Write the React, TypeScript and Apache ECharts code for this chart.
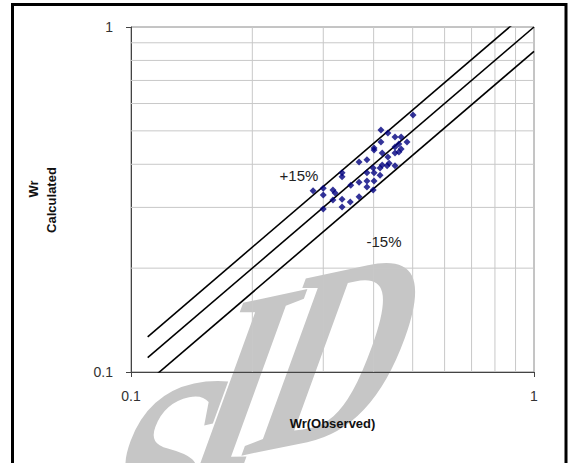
import React, { useEffect, useRef } from "react";
import * as echarts from "echarts";

// Observed vs calculated Wr values
const observed = [
  0.501, 0.417, 0.434, 0.452, 0.468, 0.484, 0.417, 0.462, 0.468, 0.401,
  0.401, 0.452, 0.420, 0.452, 0.462, 0.434, 0.385, 0.368, 0.420, 0.432,
  0.452, 0.437, 0.399, 0.415, 0.385, 0.401, 0.415, 0.385, 0.401, 0.368,
  0.385, 0.399, 0.334, 0.334, 0.351, 0.283, 0.300, 0.317, 0.321, 0.300,
  0.334, 0.317, 0.350, 0.368, 0.334, 0.300,
];
const calculated = [
  0.556, 0.503, 0.493, 0.480, 0.480, 0.464, 0.464, 0.458, 0.443, 0.446,
  0.440, 0.449, 0.431, 0.431, 0.434, 0.420, 0.412, 0.406, 0.398, 0.396,
  0.396, 0.403, 0.390, 0.390, 0.378, 0.378, 0.372, 0.358, 0.358, 0.355,
  0.344, 0.337, 0.378, 0.368, 0.348, 0.335, 0.341, 0.337, 0.330, 0.326,
  0.317, 0.315, 0.311, 0.322, 0.301, 0.297,
];

const axisMin = 0.1;
const axisMax = 1;
const minorGridValues = [0.2, 0.3, 0.4, 0.5, 0.6, 0.7, 0.8, 0.9];
const bandRatios = [1.15, 1, 0.85];
const bandStartX = 0.11;
const bandLabels = ["+15%", "-15%"];
const xAxisTitle = "Wr(Observed)";
const yAxisTitleLines = ["Wr", "Calculated"];
const watermarkLetters = ["S", "I", "D"];

function watermarkTransform() {
  const a = 0.85;
  const b = 1.2;
  const base = (12 * Math.PI) / 180;
  const lean = (20 * Math.PI) / 180;
  const m00 = a * Math.cos(base);
  const m10 = -a * Math.sin(base);
  const m01 = -b * Math.sin(lean);
  const m11 = b * Math.cos(lean);
  const E = (m00 + m11) / 2;
  const F = (m00 - m11) / 2;
  const G = (m10 + m01) / 2;
  const H = (m10 - m01) / 2;
  const Q = Math.hypot(E, H);
  const R = Math.hypot(F, G);
  const a1 = Math.atan2(G, F);
  const a2 = Math.atan2(H, E);
  return {
    outer: -(a2 + a1) / 2,
    sx: Q + R,
    sy: Q - R,
    inner: -(a2 - a1) / 2,
  };
}

export default function App() {
  const ref = useRef<HTMLDivElement>(null);

  useEffect(() => {
    document.body.style.margin = "0";
    if (!ref.current) return;
    const chart = echarts.init(ref.current, undefined, { renderer: "svg" });

    const gridSeries: any[] = [];
    minorGridValues.forEach((v) => {
      gridSeries.push({
        type: "line",
        data: [
          [v, axisMin],
          [v, axisMax],
        ],
        symbol: "none",
        silent: true,
        z: 0,
        lineStyle: { color: "#c8c8c8", width: 1 },
      });
      gridSeries.push({
        type: "line",
        data: [
          [axisMin, v],
          [axisMax, v],
        ],
        symbol: "none",
        silent: true,
        z: 0,
        lineStyle: { color: "#c8c8c8", width: 1 },
      });
    });

    const bandSeries = bandRatios.map((k) => ({
      type: "line",
      data: [
        [bandStartX, bandStartX * k],
        [axisMax, axisMax * k],
      ],
      symbol: "none",
      silent: true,
      clip: true,
      z: 2,
      lineStyle: { color: "#000", width: 1.6 },
    }));

    const wm = watermarkTransform();
    const wmCenters = [
      [160, 472],
      [244, 382],
      [343, 350],
    ];
    const wmGroups = watermarkLetters.map((ch, i) => ({
      type: "group",
      x: wmCenters[i][0],
      y: wmCenters[i][1],
      rotation: wm.outer,
      z: -5,
      children: [
        {
          type: "group",
          scaleX: wm.sx,
          scaleY: wm.sy,
          z: -5,
          children: [
            {
              type: "text",
              rotation: wm.inner,
              z: -5,
              silent: true,
              style: {
                text: ch,
                font: "bold 240px 'Liberation Serif', 'DejaVu Serif', serif",
                fill: "#c6c6c6",
                align: "center",
                verticalAlign: "middle",
              },
            },
          ],
        },
      ],
    }));

    const labelFont = "Arial, 'Liberation Sans', sans-serif";

    chart.setOption({
      animation: false,
      backgroundColor: "#fff",
      grid: {
        left: 131,
        top: 27,
        width: 403,
        height: 345,
        show: true,
        borderColor: "#8a8a8a",
        borderWidth: 1,
        backgroundColor: "transparent",
      },
      xAxis: {
        type: "log",
        logBase: 10,
        min: axisMin,
        max: axisMax,
        name: xAxisTitle,
        nameLocation: "middle",
        nameGap: 45,
        nameTextStyle: {
          fontFamily: labelFont,
          fontWeight: "bold",
          fontSize: 13,
          color: "#111",
        },
        axisLine: { lineStyle: { color: "#444", width: 1 } },
        axisTick: { show: true, length: 5, lineStyle: { color: "#444" } },
        splitLine: { show: false },
        axisLabel: {
          margin: 17,
          fontFamily: labelFont,
          fontSize: 14,
          color: "#333",
          formatter: (v: number) => String(v),
        },
      },
      yAxis: {
        type: "log",
        logBase: 10,
        min: axisMin,
        max: axisMax,
        axisLine: { show: true, lineStyle: { color: "#444", width: 1 } },
        axisTick: { show: true, length: 5, lineStyle: { color: "#444" } },
        splitLine: { show: false },
        axisLabel: {
          margin: 18,
          fontFamily: labelFont,
          fontSize: 14,
          color: "#333",
          formatter: (v: number) => String(v),
        },
      },
      series: [
        ...gridSeries,
        ...bandSeries,
        {
          type: "scatter",
          data: observed.map((x, i) => [x, calculated[i]]),
          symbol: "diamond",
          symbolSize: 7,
          z: 3,
          itemStyle: { color: "#000080" },
        },
      ],
      graphic: [
        ...wmGroups,
        {
          type: "text",
          x: 299,
          y: 175,
          style: {
            text: bandLabels[0],
            font: `15px ${labelFont}`,
            fill: "#222",
            align: "center",
            verticalAlign: "middle",
          },
          z: 10,
        },
        {
          type: "text",
          x: 384,
          y: 241,
          style: {
            text: bandLabels[1],
            font: `15px ${labelFont}`,
            fill: "#222",
            align: "center",
            verticalAlign: "middle",
          },
          z: 10,
        },
        {
          type: "text",
          x: 33,
          y: 189,
          rotation: Math.PI / 2,
          style: {
            text: yAxisTitleLines[0],
            font: `bold 13px ${labelFont}`,
            fill: "#111",
            align: "center",
            verticalAlign: "middle",
          },
          z: 10,
        },
        {
          type: "text",
          x: 51,
          y: 200,
          rotation: Math.PI / 2,
          style: {
            text: yAxisTitleLines[1],
            font: `bold 13px ${labelFont}`,
            fill: "#111",
            align: "center",
            verticalAlign: "middle",
          },
          z: 10,
        },
        {
          type: "rect",
          z: 30,
          shape: { x: 12.5, y: 4.5, width: 553.5, height: 520 },
          style: { fill: "none", stroke: "#000", lineWidth: 3 },
        },
      ],
    });

    return () => chart.dispose();
  }, []);

  return (
    <div
      ref={ref}
      style={{ position: "absolute", left: 0, top: 0, width: 574, height: 463 }}
    />
  );
}
